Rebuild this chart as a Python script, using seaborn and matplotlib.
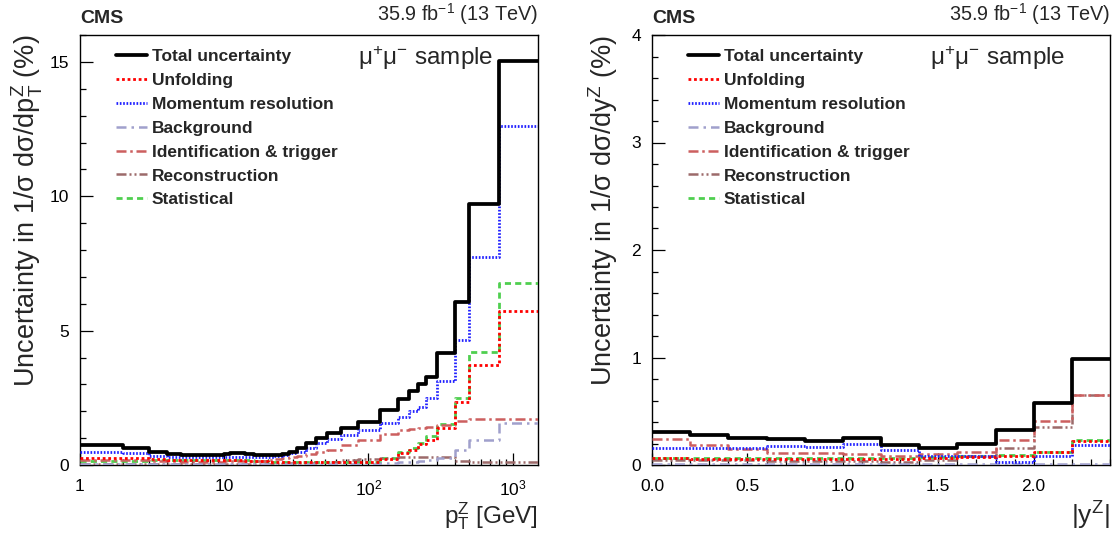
import numpy as np
import pandas as pd
import seaborn as sns
import matplotlib.pyplot as plt
from matplotlib.ticker import FixedLocator, MultipleLocator, FormatStrFormatter

# bin edges
pt_edges = [1, 2, 3, 4, 5, 6, 7, 8, 9, 10, 11, 12, 13, 14, 16, 18, 20, 22, 25, 28,
            32, 37, 43, 52, 65, 85, 120, 160, 190, 220, 250, 300, 400, 500, 800, 1500]
y_edges = [0.0, 0.2, 0.4, 0.6, 0.8, 1.0, 1.2, 1.4, 1.6, 1.8, 2.0, 2.2, 2.4]

# pT panel, uncertainties in %
pt_total = [0.75, 0.65, 0.5, 0.41, 0.38, 0.37, 0.37, 0.38, 0.39, 0.41, 0.43, 0.44, 0.43, 0.41,
            0.39, 0.37, 0.36, 0.37, 0.4, 0.48, 0.63, 0.82, 1.0, 1.19, 1.38, 1.6, 2.04, 2.45,
            2.77, 3.02, 3.29, 4.15, 6.06, 9.73, 15.05]
pt_unfold = [0.27, 0.25, 0.22, 0.2, 0.18, 0.17, 0.17, 0.17, 0.17, 0.17, 0.18, 0.18, 0.17, 0.16,
             0.15, 0.14, 0.13, 0.12, 0.11, 0.1, 0.1, 0.1, 0.1, 0.1, 0.11, 0.12, 0.21, 0.44,
             0.55, 0.78, 0.94, 1.38, 2.33, 3.73, 5.72]
pt_momres = [0.48, 0.44, 0.34, 0.3, 0.29, 0.28, 0.28, 0.28, 0.29, 0.3, 0.31, 0.31, 0.3, 0.29,
             0.28, 0.28, 0.3, 0.33, 0.38, 0.44, 0.5, 0.63, 0.82, 0.95, 1.1, 1.3, 1.57, 1.8,
             2.0, 2.15, 2.5, 3.14, 4.65, 7.74, 12.6]
pt_bkg = [0.03, 0.03, 0.03, 0.03, 0.03, 0.03, 0.03, 0.03, 0.03, 0.03, 0.03, 0.03, 0.03, 0.03,
          0.03, 0.03, 0.03, 0.03, 0.03, 0.03, 0.03, 0.03, 0.03, 0.04, 0.04, 0.05, 0.07, 0.1,
          0.12, 0.15, 0.18, 0.25, 0.55, 0.94, 1.57]
pt_idtrig = [0.2, 0.18, 0.15, 0.14, 0.13, 0.13, 0.13, 0.13, 0.13, 0.14, 0.14, 0.14, 0.14, 0.14,
             0.15, 0.16, 0.18, 0.21, 0.25, 0.29, 0.33, 0.4, 0.47, 0.57, 0.75, 0.94, 1.16, 1.3,
             1.34, 1.38, 1.42, 1.5, 1.65, 1.7, 1.72]
pt_reco = [0.05, 0.05, 0.05, 0.05, 0.05, 0.05, 0.05, 0.05, 0.05, 0.05, 0.05, 0.05, 0.05, 0.05,
           0.05, 0.05, 0.05, 0.05, 0.06, 0.06, 0.07, 0.08, 0.1, 0.13, 0.17, 0.22, 0.26, 0.3,
           0.31, 0.31, 0.31, 0.31, 0.15, 0.12, 0.12]
pt_stat = [0.15, 0.16, 0.17, 0.17, 0.17, 0.17, 0.17, 0.17, 0.18, 0.18, 0.18, 0.18, 0.18, 0.17,
           0.16, 0.15, 0.13, 0.12, 0.11, 0.1, 0.1, 0.1, 0.1, 0.1, 0.11, 0.13, 0.25, 0.48,
           0.63, 0.82, 1.07, 1.51, 2.51, 4.21, 6.77]

# |y| panel
y_total = [0.31, 0.28, 0.25, 0.24, 0.22, 0.25, 0.19, 0.16, 0.20, 0.33, 0.58, 0.99]
y_unfold = [0.065, 0.06, 0.06, 0.06, 0.06, 0.06, 0.06, 0.065, 0.07, 0.085, 0.12, 0.22]
y_momres = [0.16, 0.16, 0.16, 0.18, 0.17, 0.20, 0.14, 0.085, 0.085, 0.03, 0.08, 0.185]
y_bkg = [0.01, 0.01, 0.01, 0.01, 0.01, 0.01, 0.01, 0.01, 0.01, 0.01, 0.01, 0.01]
y_idtrig = [0.24, 0.19, 0.15, 0.11, 0.11, 0.10, 0.085, 0.10, 0.12, 0.23, 0.41, 0.65]
y_reco = [0.05, 0.05, 0.05, 0.04, 0.04, 0.04, 0.03, 0.05, 0.08, 0.16, 0.35, 0.65]
y_stat = [0.065, 0.065, 0.065, 0.065, 0.065, 0.065, 0.065, 0.07, 0.08, 0.09, 0.125, 0.23]

labels = ["Total uncertainty", "Unfolding", "Momentum resolution", "Background",
          "Identification & trigger", "Reconstruction", "Statistical"]
colors = ["black", "#ff0000", "#1f1fff", "#a0a0cc", "#cc5f5f", "#9c6a6a", "#4fcf4f"]
styles = ["-", (0, (1, 1)), (0, (0.6, 0.6)), (0, (4, 2, 1, 2)), (0, (4, 1.5, 1, 1.5)),
          (0, (4, 1.2, 0.8, 1.2, 0.8, 1.2)), (0, (2.2, 1.5))]
widths = [2.7, 2.0, 2.0, 1.8, 1.8, 1.8, 2.0]

sns.set_style("white")
plt.rcParams["font.family"] = ["Liberation Sans", "DejaVu Sans"]
plt.rcParams["mathtext.fontset"] = "custom"
plt.rcParams["mathtext.rm"] = "Liberation Sans"
plt.rcParams["mathtext.it"] = "Liberation Sans:italic"
plt.rcParams["mathtext.bf"] = "Liberation Sans:bold"


def steps_frame(edges, values):
    # repeat last value at the last edge so steps-post closes the final bin
    return pd.DataFrame({"edge": edges, "value": list(values) + [values[-1]]})


fig = plt.figure(figsize=(11.17, 5.34), dpi=100)
ax1 = fig.add_axes([80 / 1117, 69 / 534, 458 / 1117, 430 / 534])
ax2 = fig.add_axes([652 / 1117, 69 / 534, 458 / 1117, 430 / 534])

pt_series = [pt_total, pt_unfold, pt_momres, pt_bkg, pt_idtrig, pt_reco, pt_stat]
y_series = [y_total, y_unfold, y_momres, y_bkg, y_idtrig, y_reco, y_stat]

for ax, edges, series in [(ax1, pt_edges, pt_series), (ax2, y_edges, y_series)]:
    # draw in reverse so total sits on top
    for i in reversed(range(len(series))):
        sns.lineplot(data=steps_frame(edges, series[i]), x="edge", y="value", ax=ax,
                     color=colors[i], linestyle=styles[i], linewidth=widths[i],
                     drawstyle="steps-post", estimator=None, label=labels[i], zorder=10 - i)

for ax in (ax1, ax2):
    for sp in ax.spines.values():
        sp.set_visible(True)
        sp.set_color("black")
        sp.set_linewidth(1.0)
    ax.tick_params(which="both", direction="in", bottom=True, left=True, top=False,
                   right=False, colors="black", labelsize=12.5, width=0.9)
    ax.tick_params(which="major", length=9)
    ax.tick_params(which="minor", length=4.5)
    handles, labs = ax.get_legend_handles_labels()
    order = [labs.index(l) for l in labels]
    ax.legend([handles[k] for k in order], labels, loc="upper left",
              bbox_to_anchor=(0.072, 0.975), frameon=False, handlelength=1.75,
              handletextpad=0.3, labelspacing=0.5, borderaxespad=0, borderpad=0.2,
              prop={"weight": "bold", "size": 12.5})
    ax.text(0.0, 1.018, "CMS", transform=ax.transAxes, fontsize=14, fontweight="bold",
            ha="left", va="bottom")
    ax.text(1.0, 1.018, "35.9 fb$^{-1}$ (13 TeV)", transform=ax.transAxes, fontsize=14.3,
            ha="right", va="bottom")
    ax.text(0.607, 0.947, "μ$^{+}$μ$^{-}$ sample", transform=ax.transAxes, fontsize=17.5,
            ha="left", va="center")

# pT panel axes
ax1.set_xscale("log")
ax1.set_xlim(1, 1500)
ax1.set_ylim(0, 16)
ax1.xaxis.set_major_locator(FixedLocator([1, 10, 100, 1000]))
ax1.set_xticklabels(["1", "10", "$10^{2}$", "$10^{3}$"])
ax1.xaxis.set_minor_locator(FixedLocator(
    [m * 10 ** d for d in range(0, 4) for m in range(2, 10) if m * 10 ** d < 1500]))
ax1.xaxis.set_minor_formatter(plt.NullFormatter())
ax1.yaxis.set_major_locator(MultipleLocator(5))
ax1.yaxis.set_minor_locator(MultipleLocator(1))
ax1.tick_params(axis="x", which="major", pad=10)
ax1.tick_params(axis="y", which="major", pad=8)
ax1.set_xlabel("p$_{\\mathrm{T}}^{\\mathrm{Z}}$ [GeV]", fontsize=17.5, ha="right")
ax1.xaxis.set_label_coords(1.0, -0.083)
ax1.set_ylabel("Uncertainty in 1/σ dσ/dp$_{\\mathrm{T}}^{\\mathrm{Z}}$ (%)", fontsize=19.5,
               ha="right")
ax1.yaxis.set_label_coords(-0.076, 1.0)

# |y| panel axes
ax2.set_xlim(0, 2.4)
ax2.set_ylim(0, 4)
ax2.xaxis.set_major_locator(FixedLocator([0.0, 0.5, 1.0, 1.5, 2.0]))
ax2.xaxis.set_major_formatter(FormatStrFormatter("%.1f"))
ax2.xaxis.set_minor_locator(MultipleLocator(0.1))
ax2.yaxis.set_major_locator(MultipleLocator(1))
ax2.yaxis.set_minor_locator(MultipleLocator(0.2))
ax2.tick_params(axis="x", which="major", pad=10)
ax2.tick_params(axis="y", which="major", pad=8)
ax2.set_xlabel("|y$^{\\mathrm{Z}}$|", fontsize=19, ha="right")
ax2.xaxis.set_label_coords(1.0, -0.08)
ax2.set_ylabel("Uncertainty in 1/σ dσ/dy$^{\\mathrm{Z}}$ (%)", fontsize=19.5, ha="right")
ax2.yaxis.set_label_coords(-0.07, 1.0)

fig.savefig("out.png", dpi=100)
